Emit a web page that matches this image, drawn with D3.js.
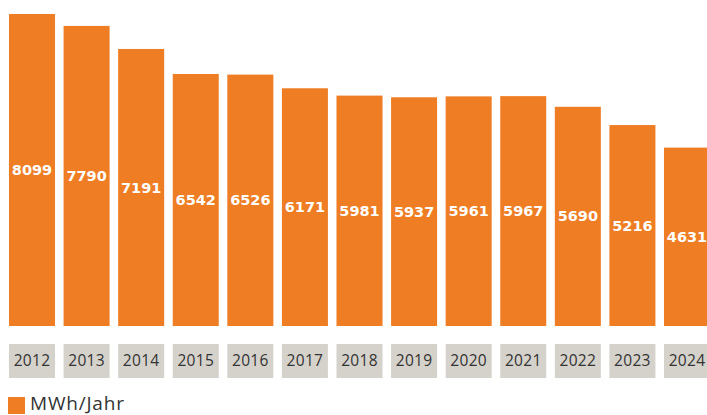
<!DOCTYPE html>
<html>
<head>
<meta charset="utf-8">
<script src="https://cdn.jsdelivr.net/npm/d3@7"></script>
<style>
  body { margin: 0; background: #fff; }
  svg { display: block; }
</style>
</head>
<body>
<div id="chart"></div>
<script>
var years = ["2012","2013","2014","2015","2016","2017","2018","2019","2020","2021","2022","2023","2024"];
var values = [8099, 7790, 7191, 6542, 6526, 6171, 5981, 5937, 5961, 5967, 5690, 5216, 4631];
var seriesName = "MWh/Jahr";

var width = 707, height = 415;
var orange = "#ee7d23";

var svg = d3.select("#chart")
  .append("svg")
    .attr("width", width)
    .attr("height", height);

// x band
var x = d3.scaleBand()
  .domain(years)
  .range([9, 710])
  .paddingInner(0.157)
  .paddingOuter(0);

// y linear
var baseY = 326;
var y = d3.scaleLinear()
  .domain([0, 8099])
  .range([baseY, 14]);

// bars
svg.selectAll("rect.bar")
  .data(values)
  .enter()
  .append("rect")
    .attr("class", "bar")
    .attr("x", function(d, i) { return x(years[i]); })
    .attr("y", function(d) { return y(d); })
    .attr("width", x.bandwidth())
    .attr("height", function(d) { return baseY - y(d); })
    .attr("fill", orange);

// value labels
svg.selectAll("text.val")
  .data(values)
  .enter()
  .append("text")
    .attr("class", "val")
    .attr("x", function(d, i) { return x(years[i]) + x.bandwidth() / 2; })
    .attr("y", function(d) { return (y(d) + baseY) / 2; })
    .attr("dy", "0.35em")
    .attr("text-anchor", "middle")
    .attr("fill", "#fff")
    .style("font-family", "'DejaVu Sans', sans-serif")
    .style("font-weight", "700")
    .style("font-size", "14.5px")
    .text(function(d) { return d; });

// year boxes
var yearG = svg.selectAll("g.year")
  .data(years)
  .enter()
  .append("g")
    .attr("class", "year")
    .attr("transform", function(d) { return "translate(" + x(d) + ",344)"; });

yearG.append("rect")
  .attr("width", x.bandwidth())
  .attr("height", 34)
  .attr("fill", "#d5d2cb");

yearG.append("text")
  .attr("x", x.bandwidth() / 2)
  .attr("y", 17)
  .attr("dy", "0.35em")
  .attr("text-anchor", "middle")
  .attr("fill", "#333")
  .style("font-family", "'Open Sans', sans-serif")
  .style("font-size", "15.5px")
  .style("letter-spacing", "0.3px")
  .text(function(d) { return d; });

// legend
svg.append("rect")
  .attr("x", 8)
  .attr("y", 397)
  .attr("width", 17)
  .attr("height", 17)
  .attr("fill", orange);

svg.append("text")
  .attr("x", 30)
  .attr("y", 410)
  .attr("fill", "#333")
  .style("font-family", "'Open Sans', sans-serif")
  .style("font-size", "19px")
  .style("letter-spacing", "0.8px")
  .text(seriesName);
</script>
</body>
</html>
